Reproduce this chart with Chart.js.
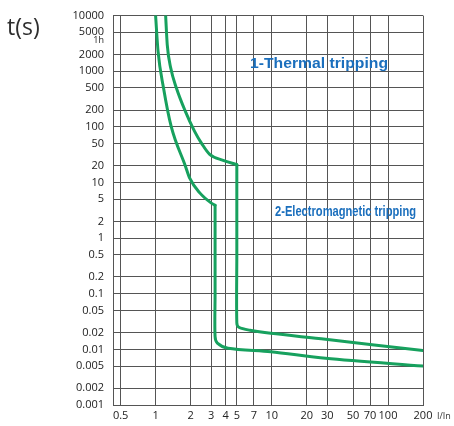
<!DOCTYPE html>
<html>
<head>
<meta charset="utf-8">
<title>Tripping curves</title>
<script src="https://cdn.jsdelivr.net/npm/chart.js@4.4.1/dist/chart.umd.min.js"></script>
<style>
  html, body { margin: 0; padding: 0; background: #ffffff; }
  canvas { display: block; }
</style>
</head>
<body>
<canvas id="chart" width="454" height="426"></canvas>
<script>
// Axis ticks (multiples of rated current, trip time in seconds)
const xTickValues = [0.5, 1, 2, 3, 4, 5, 7, 10, 20, 30, 50, 70, 100, 200];
const xTickLabels = ['0.5', '1', '2', '3', '4', '5', '7', '10', '20', '30', '50', '70', '100', '200'];
const yTickValues = [10000, 5000, 3600, 2000, 1000, 500, 200, 100, 50, 20, 10, 5, 2, 1,
                     0.5, 0.2, 0.1, 0.05, 0.02, 0.01, 0.005, 0.002, 0.001];
const yTickLabels = ['10000', '5000', '1h', '2000', '1000', '500', '200', '100', '50', '20', '10', '5', '2', '1',
                     '0.5', '0.2', '0.1', '0.05', '0.02', '0.01', '0.005', '0.002', '0.001'];

// Lower limit: thermal (inverse-time) section
const lowerThermalCurrent = [1.0, 1.05, 1.17, 1.36, 1.80, 1.96, 2.40, 3.0, 3.25];
const lowerThermalTime    = [10000, 2270, 500, 103, 20, 12.1, 6.5, 4.3, 3.9];
// Lower limit: electromagnetic (instantaneous) section
const lowerMagneticCurrent = [3.25, 3.25, 3.25, 3.4, 4.2, 9.8, 29, 200];
const lowerMagneticTime    = [3.9, 0.1, 0.017, 0.013, 0.0105, 0.0091, 0.0069, 0.005];

// Upper limit: thermal (inverse-time) section
const upperThermalCurrent = [1.22, 1.26, 1.35, 1.51, 1.80, 2.16, 2.51, 2.92, 3.81, 5.0];
const upperThermalTime    = [10000, 2990, 1140, 500, 192, 84, 49, 32, 25, 21];
// Upper limit: electromagnetic (instantaneous) section
const upperMagneticCurrent = [5.0, 5.0, 5.0, 5.2, 6.5, 9.8, 29, 200];
const upperMagneticTime    = [21, 0.5, 0.030, 0.025, 0.022, 0.0194, 0.0152, 0.0095];

const toPoints = (xs, ys) => xs.map((x, i) => ({ x: x, y: ys[i] }));

const GRID = '#555555';
const CURVE = '#17a15e';
const NOTE = '#1b6fbd';

// Draw text squeezed or stretched to a given width
function fitText(ctx, text, x, y, width) {
  const w = ctx.measureText(text).width;
  ctx.save();
  ctx.translate(x, y);
  ctx.scale(width / w, 1);
  ctx.fillText(text, 0, 0);
  ctx.restore();
}

const notes = {
  id: 'notes',
  afterDraw(chart) {
    const { ctx, chartArea } = chart;
    ctx.save();
    ctx.textBaseline = 'alphabetic';
    ctx.textAlign = 'left';

    ctx.fillStyle = '#2e2e2e';
    ctx.font = '23px "Open Sans"';
    ctx.fillText('t(s)', 7, 35);

    ctx.fillStyle = '#333333';
    ctx.font = '9px "Open Sans"';
    ctx.fillText('I/In', chartArea.right + 14, chartArea.bottom + 14);

    ctx.fillStyle = NOTE;
    ctx.font = 'bold 15px "Liberation Sans"';
    fitText(ctx, '1-Thermal tripping', chartArea.left + 137, chartArea.top + 52, 138);
    ctx.font = 'bold 14px "Liberation Sans"';
    fitText(ctx, '2-Electromagnetic tripping', chartArea.left + 162, chartArea.top + 200, 141);
    ctx.restore();
  }
};

Chart.defaults.font.family = '"Open Sans", sans-serif';

const thermal = { cubicInterpolationMode: 'monotone' };
const magnetic = { tension: 0.3 };

new Chart(document.getElementById('chart'), {
  type: 'scatter',
  data: {
    datasets: [
      Object.assign({ data: toPoints(lowerThermalCurrent, lowerThermalTime) }, thermal),
      Object.assign({ data: toPoints(lowerMagneticCurrent, lowerMagneticTime) }, magnetic),
      Object.assign({ data: toPoints(upperThermalCurrent, upperThermalTime) }, thermal),
      Object.assign({ data: toPoints(upperMagneticCurrent, upperMagneticTime) }, magnetic)
    ]
  },
  options: {
    responsive: false,
    animation: false,
    devicePixelRatio: 1,
    events: [],
    layout: { padding: { left: 0, right: 31, top: 14, bottom: 0 } },
    elements: {
      line: {
        borderColor: CURVE, borderWidth: 3, fill: false,
        borderCapStyle: 'round', borderJoinStyle: 'round'
      },
      point: { radius: 0 }
    },
    datasets: { scatter: { showLine: true } },
    plugins: { legend: { display: false }, tooltip: { enabled: false } },
    scales: {
      x: {
        type: 'logarithmic',
        min: 0.43,
        max: 200,
        afterBuildTicks: (s) => { s.ticks = xTickValues.map(v => ({ value: v })); },
        afterFit: (s) => { s.height = 21; },
        grid: { color: GRID, lineWidth: 1, drawTicks: false },
        border: { color: GRID, width: 1 },
        ticks: {
          autoSkip: false, maxRotation: 0, minRotation: 0, padding: 4,
          color: '#222222', font: { size: 11 },
          callback: (v, i) => xTickLabels[i]
        }
      },
      y: {
        type: 'logarithmic',
        min: 0.001,
        max: 10000,
        afterBuildTicks: (s) => { s.ticks = yTickValues.map(v => ({ value: v })); },
        afterFit: (s) => { s.width = 113; },
        grid: {
          color: (c) => (c.tick && c.tick.value === 3600 ? 'rgba(0,0,0,0)' : GRID),
          lineWidth: 1, drawTicks: false
        },
        border: { color: GRID, width: 1 },
        ticks: {
          autoSkip: false, padding: 9, color: '#222222',
          font: (c) => ({ size: c.tick && c.tick.value === 3600 ? 9 : 11 }),
          callback: (v, i) => yTickLabels[i]
        }
      }
    }
  },
  plugins: [notes]
});
</script>
</body>
</html>
